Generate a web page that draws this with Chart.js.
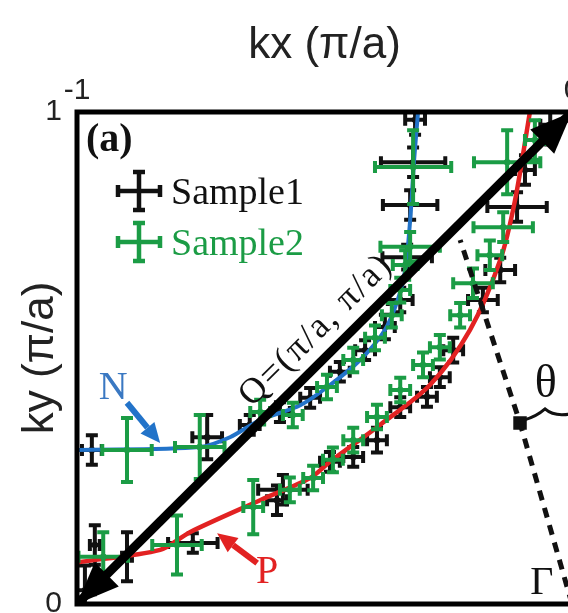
<!DOCTYPE html>
<html>
<head>
<meta charset="utf-8">
<script src="https://cdn.jsdelivr.net/npm/chart.js@4"></script>
<style>
  html, body { margin: 0; padding: 0; background: #fff; overflow: hidden; }
  #wrap { width: 590px; height: 613px; }
</style>
</head>
<body>
<div id="wrap"><canvas id="fs" width="590" height="613"></canvas></div>
<script>
const SANS = '"Liberation Sans", Arial, sans-serif';
const SERIF = '"Liberation Serif", "Times New Roman", serif';
const BLACK = '#111';
const GREEN = '#1b9c45';
const BLUE = '#2273c9';
const RED = '#e22222';

// axis ticks
const xTicks = [-1, 0];
const yTicks = [0, 1];

// Sample1, upper (N) branch
const s1UpKx = [-0.970, -0.737, -0.651, -0.590, -0.529, -0.469, -0.418, -0.378, -0.347, -0.333, -0.327, -0.321, -0.317];
const s1UpKy = [0.313, 0.339, 0.364, 0.390, 0.419, 0.472, 0.516, 0.563, 0.618, 0.705, 0.811, 0.898, 0.984];
const s1UpEx = [0.02, 0.03, 0.02, 0.02, 0.02, 0.02, 0.02, 0.02, 0.025, 0.05, 0.055, 0.065, 0.02];
const s1UpEy = [0.03, 0.045, 0.02, 0.02, 0.02, 0.02, 0.02, 0.025, 0.025, 0.025, 0.03, 0.03, 0.03];
// Sample1, lower (P) branch
const s1LoKx = [-0.984, -0.964, -0.899, -0.766, -0.596, -0.584, -0.489, -0.442, -0.394, -0.347, -0.293, -0.267, -0.240, -0.180, -0.145, -0.111, -0.095, -0.044];
const s1LoKy = [0.028, 0.120, 0.096, 0.124, 0.211, 0.232, 0.289, 0.299, 0.333, 0.400, 0.421, 0.461, 0.516, 0.618, 0.679, 0.807, 0.882, 0.974];
const s1LoEx = [0.02, 0.01, 0.01, 0.05, 0.02, 0.05, 0.02, 0.02, 0.02, 0.02, 0.02, 0.02, 0.02, 0.03, 0.03, 0.06, 0.02, 0.02];
const s1LoEy = [0.05, 0.04, 0.05, 0.02, 0.03, 0.03, 0.02, 0.02, 0.025, 0.02, 0.02, 0.02, 0.025, 0.025, 0.025, 0.03, 0.03, 0.04];

// Sample2, upper (N) branch
const s2UpKx = [-0.899, -0.752, -0.630, -0.564, -0.495, -0.442, -0.398, -0.364, -0.347, -0.337, -0.327, -0.321];
const s2UpKy = [0.313, 0.319, 0.390, 0.384, 0.441, 0.496, 0.541, 0.587, 0.638, 0.689, 0.726, 0.888];
const s2UpEx = [0.05, 0.05, 0.02, 0.02, 0.02, 0.02, 0.02, 0.02, 0.02, 0.025, 0.06, 0.077];
const s2UpEy = [0.065, 0.065, 0.025, 0.025, 0.025, 0.025, 0.025, 0.025, 0.025, 0.03, 0.03, 0.075];
// Sample2, lower (P) branch
const s2LoKx = [-0.947, -0.798, -0.644, -0.570, -0.523, -0.483, -0.442, -0.394, -0.347, -0.301, -0.267, -0.226, -0.200, -0.166, -0.139, -0.131, -0.075];
const s2LoKy = [0.096, 0.120, 0.197, 0.232, 0.256, 0.293, 0.333, 0.380, 0.435, 0.486, 0.522, 0.587, 0.652, 0.709, 0.766, 0.898, 0.943];
const s2LoEx = [0.05, 0.05, 0.02, 0.02, 0.02, 0.02, 0.02, 0.02, 0.02, 0.02, 0.02, 0.02, 0.04, 0.025, 0.06, 0.067, 0.02];
const s2LoEy = [0.05, 0.06, 0.055, 0.025, 0.025, 0.025, 0.025, 0.025, 0.025, 0.025, 0.025, 0.025, 0.03, 0.03, 0.03, 0.065, 0.04];

// N (blue) and P (red) guide curves
const nKx = [-0.998, -0.752, -0.691, -0.630, -0.549, -0.489, -0.428, -0.378, -0.352, -0.337, -0.327, -0.319, -0.311];
const nKy = [0.313, 0.319, 0.339, 0.374, 0.404, 0.445, 0.496, 0.557, 0.618, 0.679, 0.780, 0.902, 1.0];
const pKx = [-0.998, -0.832, -0.772, -0.630, -0.529, -0.489, -0.388, -0.287, -0.206, -0.145, -0.115, -0.085];
const pKy = [0.085, 0.110, 0.146, 0.211, 0.256, 0.289, 0.364, 0.445, 0.557, 0.699, 0.821, 1.0];

// Q vector and the dashed line from Gamma
const qKx = [-1, 0];
const qKy = [0, 1];
const gKx = [0, -0.105, -0.226];
const gKy = [0, 0.368, 0.740];

const pts = (xs, ys) => xs.map((v, i) => ({ x: v, y: ys[i] }));

// error bars + arrow heads, drawn right after their own dataset
const marks = {
  id: 'marks',
  afterDatasetDraw(chart, args) {
    const ds = chart.data.datasets[args.index];
    const { x, y } = chart.scales;
    const a = chart.chartArea;
    const ctx = chart.ctx;
    ctx.save();
    ctx.beginPath();
    ctx.rect(a.left, a.top, a.right - a.left, a.bottom - a.top);
    ctx.clip();
    if (ds.errX) {
      const cap = 6;
      ctx.strokeStyle = ds.borderColor;
      ctx.lineWidth = 4;
      ctx.lineCap = 'butt';
      ds.data.forEach((p, i) => {
        const px = x.getPixelForValue(p.x), py = y.getPixelForValue(p.y);
        const x0 = x.getPixelForValue(p.x - ds.errX[i]), x1 = x.getPixelForValue(p.x + ds.errX[i]);
        const y0 = y.getPixelForValue(p.y - ds.errY[i]), y1 = y.getPixelForValue(p.y + ds.errY[i]);
        ctx.beginPath();
        ctx.moveTo(x0, py); ctx.lineTo(x1, py);
        ctx.moveTo(px, y0); ctx.lineTo(px, y1);
        ctx.moveTo(x0, py - cap); ctx.lineTo(x0, py + cap);
        ctx.moveTo(x1, py - cap); ctx.lineTo(x1, py + cap);
        ctx.moveTo(px - cap, y0); ctx.lineTo(px + cap, y0);
        ctx.moveTo(px - cap, y1); ctx.lineTo(px + cap, y1);
        ctx.stroke();
      });
    }
    if (ds.arrowHeads) {
      const d = ds.data;
      const ends = [[d[0], d[1]], [d[d.length - 1], d[d.length - 2]]];
      ctx.fillStyle = ds.borderColor;
      ends.forEach(([tip, from]) => {
        const tx = x.getPixelForValue(tip.x), ty = y.getPixelForValue(tip.y);
        const fx = x.getPixelForValue(from.x), fy = y.getPixelForValue(from.y);
        const ang = Math.atan2(ty - fy, tx - fx);
        const L = 42, W = 17;
        const bx = tx - L * Math.cos(ang), by = ty - L * Math.sin(ang);
        ctx.beginPath();
        ctx.moveTo(tx, ty);
        ctx.lineTo(bx + W * Math.sin(ang), by - W * Math.cos(ang));
        ctx.lineTo(bx - W * Math.sin(ang), by + W * Math.cos(ang));
        ctx.closePath();
        ctx.fill();
      });
    }
    ctx.restore();
  }
};

function arrow(ctx, x0, y0, x1, y1, color, w, hl, hw) {
  const ang = Math.atan2(y1 - y0, x1 - x0);
  const bx = x1 - hl * Math.cos(ang), by = y1 - hl * Math.sin(ang);
  ctx.strokeStyle = color;
  ctx.fillStyle = color;
  ctx.lineWidth = w;
  ctx.beginPath();
  ctx.moveTo(x0, y0);
  ctx.lineTo(bx, by);
  ctx.stroke();
  ctx.beginPath();
  ctx.moveTo(x1, y1);
  ctx.lineTo(bx + hw * Math.sin(ang), by - hw * Math.cos(ang));
  ctx.lineTo(bx - hw * Math.sin(ang), by + hw * Math.cos(ang));
  ctx.closePath();
  ctx.fill();
}

function legendCross(ctx, cx, cy, color) {
  const hx = 21, hy = 19, cap = 6;
  ctx.strokeStyle = color;
  ctx.lineWidth = 4.5;
  ctx.beginPath();
  ctx.moveTo(cx - hx, cy); ctx.lineTo(cx + hx, cy);
  ctx.moveTo(cx, cy - hy); ctx.lineTo(cx, cy + hy);
  ctx.moveTo(cx - hx, cy - cap); ctx.lineTo(cx - hx, cy + cap);
  ctx.moveTo(cx + hx, cy - cap); ctx.lineTo(cx + hx, cy + cap);
  ctx.moveTo(cx - cap, cy - hy); ctx.lineTo(cx + cap, cy - hy);
  ctx.moveTo(cx - cap, cy + hy); ctx.lineTo(cx + cap, cy + hy);
  ctx.stroke();
}

// frame, legend and labels
const decor = {
  id: 'decor',
  afterDraw(chart) {
    const { ctx, chartArea: a } = chart;
    const { x, y } = chart.scales;
    const X = v => x.getPixelForValue(v), Y = v => y.getPixelForValue(v);
    ctx.save();
    ctx.strokeStyle = '#000';
    ctx.lineWidth = 5;
    ctx.strokeRect(a.left, a.top, a.right - a.left, a.bottom - a.top);

    ctx.textBaseline = 'middle';
    ctx.fillStyle = '#111';
    ctx.font = 'bold 40px ' + SERIF;
    ctx.textAlign = 'left';
    ctx.fillText('(a)', 86, 141);

    // legend
    const sets = chart.data.datasets.filter(d => d.errX);
    const order = ['Sample1', 'Sample2'];
    order.forEach((name, i) => {
      const ds = sets.find(d => d.label === name);
      const cy = 191 + i * 51;
      legendCross(ctx, 139, cy, ds.borderColor);
      ctx.fillStyle = ds.borderColor;
      ctx.font = '38px ' + SERIF;
      ctx.fillText(ds.label, 171, cy + 3);
    });

    // Q label along the diagonal
    const qx = X(-0.481), qy = Y(0.52);
    const ang = Math.atan2(Y(1) - Y(0), X(0) - X(-1));
    ctx.save();
    ctx.translate(qx, qy);
    ctx.rotate(ang);
    ctx.fillStyle = '#111';
    ctx.font = '36px ' + SERIF;
    ctx.textAlign = 'center';
    ctx.letterSpacing = '2px';
    ctx.fillText('Q=(π/a, π/a)', 0, -25);
    ctx.restore();

    // N and P
    ctx.textAlign = 'center';
    ctx.font = '40px ' + SERIF;
    ctx.fillStyle = '#3a78c2';
    ctx.fillText('N', X(-0.927), Y(0.437));
    arrow(ctx, X(-0.899), Y(0.409), X(-0.832), Y(0.327), BLUE, 6, 20, 9);
    ctx.fillStyle = RED;
    ctx.fillText('P', X(-0.616), Y(0.065));
    arrow(ctx, X(-0.636), Y(0.083), X(-0.717), Y(0.144), RED, 6, 20, 9);

    // Gamma and theta
    ctx.fillStyle = '#111';
    ctx.font = '40px ' + SERIF;
    ctx.fillText('Γ', X(-0.061), Y(0.041));
    ctx.font = '46px ' + SERIF;
    ctx.fillText('θ', X(-0.053), Y(0.445));
    const vx = X(gKx[1]), vy = Y(gKy[1]);
    ctx.strokeStyle = '#111';
    ctx.lineWidth = 3;
    ctx.beginPath();
    ctx.moveTo(vx + 4, vy - 3);
    ctx.quadraticCurveTo(vx + 16, vy - 6, vx + 25, vy - 14);
    ctx.quadraticCurveTo(vx + 34, vy - 6, vx + 50, vy - 9);
    ctx.stroke();
    ctx.restore();
  }
};

new Chart(document.getElementById('fs'), {
  type: 'scatter',
  data: {
    datasets: [
      { label: 'Sample1', data: pts(s1UpKx.concat(s1LoKx), s1UpKy.concat(s1LoKy)),
        errX: s1UpEx.concat(s1LoEx), errY: s1UpEy.concat(s1LoEy),
        borderColor: BLACK, backgroundColor: BLACK, pointRadius: 3, order: 6 },
      { label: 'P', data: pts(pKx, pKy), showLine: true, borderColor: RED, borderWidth: 4.5,
        pointRadius: 0, tension: 0.3, order: 5 },
      { label: 'N', data: pts(nKx, nKy), showLine: true, borderColor: BLUE, borderWidth: 4,
        pointRadius: 0, tension: 0.3, order: 4 },
      { label: 'Sample2', data: pts(s2UpKx.concat(s2LoKx), s2UpKy.concat(s2LoKy)),
        errX: s2UpEx.concat(s2LoEx), errY: s2UpEy.concat(s2LoEy),
        borderColor: GREEN, backgroundColor: GREEN, pointRadius: 3, order: 3 },
      { label: 'Gamma', data: pts(gKx, gKy), showLine: true, borderColor: '#111', borderWidth: 5,
        borderDash: [10, 8], pointRadius: [0, 6, 0], pointStyle: 'rect',
        pointBackgroundColor: '#111', order: 2 },
      { label: 'Q', data: pts(qKx, qKy), showLine: true, borderColor: '#000', borderWidth: 9,
        pointRadius: 0, arrowHeads: true, order: 1 }
    ]
  },
  options: {
    responsive: false,
    animation: false,
    layout: { padding: { left: 0, top: 0, right: 18, bottom: 9 } },
    plugins: { legend: { display: false }, tooltip: { enabled: false } },
    scales: {
      x: {
        type: 'linear', position: 'top', min: -1, max: 0,
        afterBuildTicks: s => { s.ticks = xTicks.map(v => ({ value: v })); },
        afterFit: s => { s.height = 112; },
        grid: { display: false, drawTicks: true, tickLength: 3 },
        border: { display: false },
        ticks: { padding: 0, color: '#222', font: { family: SANS, size: 30 }, callback: v => String(v) },
        title: { display: true, text: 'kx (π/a)', color: '#222', font: { family: SANS, size: 44 },
                 padding: { top: 19, bottom: 0 } }
      },
      y: {
        type: 'linear', position: 'left', min: 0, max: 1,
        afterBuildTicks: s => { s.ticks = yTicks.map(v => ({ value: v })); },
        afterFit: s => { s.width = 77; },
        grid: { display: false, drawTicks: true, tickLength: 15 },
        border: { display: false },
        ticks: { padding: 0, color: '#222', font: { family: SANS, size: 30, lineHeight: 0.6 }, callback: v => String(v) },
        title: { display: true, text: 'ky (π/a)', color: '#222', font: { family: SANS, size: 44 },
                 padding: { top: 14, bottom: 0 } }
      }
    }
  },
  plugins: [marks, decor]
});
</script>
</body>
</html>
